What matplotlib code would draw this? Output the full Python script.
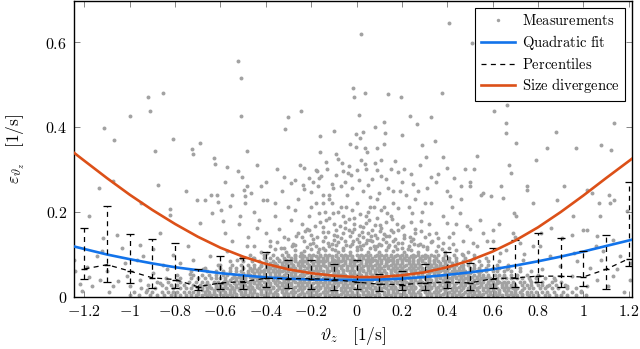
import numpy as np
import matplotlib
matplotlib.use("Agg")
import matplotlib.pyplot as plt
from matplotlib.lines import Line2D

plt.rcParams["mathtext.fontset"] = "cm"
plt.rcParams["font.family"] = ["DejaVu Serif"]

# --- measurements: dense lower band, one row per height, x in hundredths of 1/s
band_rows = [
    (0.003, [-100, -96, -91, -88, -85, -82, -80, -78, -75, -73, -71, -68, -66, -64, -62, -59, -57, -55, -53, -50, -48, -46, -44, -41, -39, -37, -35, -32, -30, -28, -26, -23, -21, -19, -17, -14, -12, -10, -8, -5, -3, -1, 1, 4, 6, 8, 10, 13, 15, 17, 19, 22, 24, 26, 28, 31, 33, 35, 37, 40, 42, 44, 46, 49, 51, 53, 55, 58, 60, 62, 64, 67, 69, 71, 73, 76, 78, 80, 83, 85, 88, 90, 93, 97, 101]),
    (0.007, [-70, -67, -65, -63, -60, -58, -56, -53, -51, -49, -46, -44, -42, -39, -37, -35, -32, -30, -28, -25, -23, -21, -18, -16, -14, -11, -9, -7, -4, -2, 0, 3, 5, 7, 10, 12, 14, 17, 19, 21, 24, 26, 28, 31, 33, 35, 38, 40, 42, 45, 47, 49, 52, 54, 56, 59, 61, 63, 66, 68, 70, 73, 75]),
    (0.011, [-98, -93, -90, -86, -83, -81, -79, -76, -74, -72, -70, -67, -65, -63, -60, -58, -56, -54, -51, -49, -47, -45, -42, -40, -38, -36, -33, -31, -29, -27, -24, -22, -20, -18, -15, -13, -11, -9, -6, -4, -2, 0, 3, 5, 7, 9, 12, 14, 16, 18, 21, 23, 25, 27, 30, 32, 34, 36, 39, 41, 43, 45, 48, 50, 52, 54, 57, 59, 61, 63, 66, 68, 70, 72, 75, 77, 79, 82, 84, 87, 91, 95, 99]),
    (0.015, [-68, -66, -63, -61, -59, -56, -54, -52, -49, -47, -45, -42, -40, -38, -35, -33, -31, -28, -26, -24, -21, -19, -17, -14, -12, -10, -7, -5, -3, 0, 2, 4, 7, 9, 11, 14, 16, 18, 21, 23, 25, 28, 30, 32, 35, 37, 39, 42, 44, 46, 49, 51, 53, 56, 58, 60, 63, 65, 67, 70, 73]),
    (0.019, [-95, -89, -84, -81, -78, -75, -73, -70, -68, -66, -64, -61, -59, -57, -55, -52, -50, -48, -46, -43, -41, -39, -37, -34, -32, -30, -28, -25, -23, -21, -19, -16, -14, -12, -10, -7, -5, -3, -1, 2, 4, 6, 8, 11, 13, 15, 17, 20, 22, 24, 26, 29, 31, 33, 35, 38, 40, 42, 44, 47, 49, 51, 53, 56, 58, 60, 62, 65, 67, 69, 71, 74, 76, 78, 81, 83, 86, 89, 93, 97]),
    (0.023, [-65, -62, -60, -58, -55, -53, -51, -48, -46, -44, -41, -39, -37, -34, -32, -30, -27, -25, -23, -20, -18, -16, -13, -11, -9, -6, -4, -2, 1, 3, 5, 8, 10, 12, 15, 17, 19, 22, 24, 26, 29, 31, 33, 36, 38, 40, 43, 45, 47, 50, 52, 54, 57, 59, 61, 64, 66, 68, 70]),
    (0.027, [-92, -86, -82, -79, -76, -72, -69, -67, -65, -62, -60, -58, -56, -53, -51, -49, -47, -44, -42, -40, -38, -35, -33, -31, -29, -26, -24, -22, -20, -17, -15, -13, -11, -8, -6, -4, -2, 1, 3, 5, 7, 10, 12, 14, 16, 19, 21, 23, 25, 28, 30, 32, 34, 37, 39, 41, 43, 46, 48, 50, 52, 55, 57, 59, 61, 64, 66, 68, 70, 73, 75, 77, 80, 82, 85, 88, 92]),
    (0.031, [-62, -59, -57, -54, -52, -50, -47, -45, -43, -40, -38, -36, -33, -31, -29, -26, -24, -22, -19, -17, -15, -12, -10, -8, -5, -3, -1, 2, 4, 6, 9, 11, 13, 16, 18, 20, 23, 25, 27, 30, 32, 34, 37, 39, 41, 44, 46, 48, 51, 53, 55, 58, 60, 62, 64, 66]),
    (0.035, [-88, -83, -78, -74, -71, -68, -66, -63, -61, -59, -57, -54, -52, -50, -48, -45, -43, -41, -39, -36, -34, -32, -30, -27, -25, -23, -21, -18, -16, -14, -12, -9, -7, -5, -3, 0, 2, 4, 6, 9, 11, 13, 15, 18, 20, 22, 24, 27, 29, 31, 33, 36, 38, 40, 42, 45, 47, 49, 51, 54, 56, 58, 60, 63, 65, 67, 69, 72, 74, 77, 79, 82, 86, 90]),
    (0.039, [-58, -56, -53, -51, -49, -46, -44, -42, -39, -37, -35, -32, -30, -28, -25, -23, -21, -18, -16, -14, -11, -9, -7, -4, -2, 0, 3, 5, 7, 10, 12, 14, 17, 19, 21, 24, 26, 28, 31, 33, 35, 38, 40, 42, 45, 47, 49, 52, 54, 56, 59, 62]),
    (0.043, [-84, -78, -73, -70, -67, -64, -62, -60, -58, -55, -53, -51, -49, -46, -44, -42, -40, -37, -35, -33, -31, -28, -26, -24, -22, -19, -17, -15, -13, -10, -8, -6, -4, -1, 1, 3, 5, 8, 10, 12, 14, 17, 19, 21, 23, 26, 28, 30, 32, 35, 37, 39, 41, 44, 46, 48, 50, 53, 55, 57, 59, 62, 64, 66, 68, 71, 73, 76, 79, 83, 87]),
    (0.047, [-54, -52, -49, -47, -45, -42, -40, -38, -35, -33, -31, -28, -26, -24, -21, -19, -17, -14, -12, -10, -7, -5, -3, 0, 2, 4, 7, 9, 11, 14, 16, 18, 21, 23, 25, 28, 30, 32, 35, 37, 39, 42, 44, 46, 49, 51, 53, 56, 58]),
    (0.051, [-79, -72, -68, -65, -62, -59, -57, -54, -52, -50, -47, -45, -43, -41, -38, -36, -34, -32, -29, -27, -25, -23, -20, -18, -16, -14, -11, -9, -7, -5, -2, 0, 2, 4, 7, 9, 11, 13, 16, 18, 20, 22, 25, 27, 29, 31, 34, 36, 38, 40, 43, 45, 47, 49, 52, 54, 56, 58, 61, 63, 65, 68, 71, 75, 80]),
    (0.055, [-50, -48, -45, -43, -41, -38, -36, -34, -31, -29, -27, -24, -22, -20, -17, -15, -13, -10, -8, -6, -3, -1, 1, 4, 6, 8, 11, 13, 15, 18, 20, 22, 25, 27, 29, 32, 34, 36, 39, 41, 43, 46, 48, 50, 54]),
    (0.059, [-73, -66, -62, -59, -56, -53, -51, -48, -46, -44, -42, -39, -37, -35, -33, -30, -28, -26, -24, -21, -19, -17, -15, -12, -10, -8, -6, -3, -1, 1, 3, 6, 8, 10, 12, 15, 17, 19, 21, 24, 26, 28, 30, 33, 35, 37, 39, 42, 44, 46, 48, 51, 53, 55, 57, 60, 62, 65, 68, 72, 77]),
    (0.063, [-46, -44, -41, -39, -37, -34, -32, -30, -27, -25, -23, -20, -18, -16, -13, -11, -9, -6, -4, -2, 1, 3, 5, 8, 10, 12, 15, 17, 19, 22, 24, 26, 29, 31, 33, 36, 38, 40, 43, 45, 47, 50]),
    (0.067, [-67, -60, -56, -53, -50, -47, -45, -43, -40, -38, -36, -34, -31, -29, -27, -25, -22, -20, -18, -16, -13, -11, -9, -7, -4, -2, 0, 2, 5, 7, 9, 11, 14, 16, 18, 20, 23, 25, 27, 29, 32, 34, 36, 38, 41, 43, 45, 47, 50, 52, 54, 57, 60, 63, 67, 72]),
    (0.071, [-42, -39, -37, -35, -32, -30, -28, -25, -23, -21, -18, -16, -14, -11, -9, -7, -4, -2, 0, 3, 5, 7, 10, 12, 14, 17, 19, 21, 24, 26, 28, 31, 33, 35, 38, 40, 42, 46]),
    (0.075, [-61, -55, -51, -48, -45, -42, -40, -37, -35, -33, -30, -28, -26, -24, -21, -19, -17, -15, -12, -10, -8, -6, -3, -1, 1, 4, 6, 8, 10, 13, 15, 17, 19, 22, 24, 26, 28, 31, 33, 35, 37, 40, 42, 44, 47, 49, 52, 55, 58, 62, 67]),
    (0.079, [-38, -36, -33, -31, -29, -26, -24, -22, -19, -17, -15, -12, -10, -8, -5, -3, -1, 2, 4, 6, 9, 11, 13, 16, 18, 20, 23, 25, 27, 30, 32, 34, 37, 39, 42]),
    (0.083, [-56, -50, -46, -43, -40, -37, -34, -32, -30, -27, -25, -23, -20, -18, -16, -14, -11, -9, -7, -5, -2, 0, 2, 5, 7, 9, 11, 14, 16, 18, 20, 23, 25, 27, 29, 32, 34, 36, 39, 41, 44, 47, 50, 54, 58, 63]),
    (0.087, [-34, -31, -29, -27, -24, -22, -20, -17, -15, -13, -10, -8, -6, -3, -1, 1, 4, 6, 8, 11, 13, 15, 18, 20, 22, 25, 27, 29, 32, 34, 38]),
    (0.091, [-51, -45, -41, -38, -35, -32, -29, -27, -24, -22, -20, -17, -15, -13, -11, -8, -6, -4, -2, 1, 3, 5, 7, 10, 12, 14, 16, 19, 21, 23, 25, 28, 30, 32, 35, 38, 41, 44, 48, 52, 57]),
    (0.095, [-30, -27, -25, -23, -20, -18, -16, -13, -11, -9, -6, -4, -2, 1, 3, 5, 8, 10, 12, 15, 17, 19, 22, 24, 26, 29, 31, 34]),
    (0.099, [-47, -41, -37, -33, -30, -27, -24, -21, -19, -16, -14, -12, -9, -7, -5, -3, 0, 2, 4, 6, 9, 11, 13, 15, 18, 20, 22, 25, 27, 30, 33, 36, 39, 43, 47, 52]),
]

measurements = [
    # upper outliers
    (0.020, 0.620), (0.408, 0.646), (0.508, 0.598), (-0.524, 0.556), (-0.511, 0.515),
    (-0.015, 0.492), (-0.010, 0.471), (0.039, 0.481), (0.139, 0.477), (0.195, 0.471),
    (0.376, 0.480), (-0.855, 0.481), (-0.920, 0.470), (-0.911, 0.437), (-0.246, 0.437),
    (-1.000, 0.425), (-0.511, 0.426), (-0.304, 0.424), (-0.315, 0.396), (0.011, 0.429),
    (0.236, 0.426), (0.329, 0.424), (0.665, 0.452), (0.607, 0.437), (0.658, 0.409),
    (0.658, 0.386), (0.265, 0.408), (0.120, 0.411), (0.127, 0.386), (-1.115, 0.397),
    (-0.160, 0.378), (-0.004, 0.384), (0.014, 0.375), (0.879, 0.387), (1.136, 0.409),
    (-1.070, 0.368), (-0.811, 0.371), (-0.689, 0.363), (0.345, 0.366), (0.702, 0.362),
    (1.077, 0.358), (0.290, 0.358), (-0.889, 0.343), (-0.726, 0.349), (-0.723, 0.336),
    (-0.484, 0.344), (-0.160, 0.342), (-0.090, 0.336), (-0.004, 0.352), (0.039, 0.350),
    (0.842, 0.350), (0.967, 0.350), (1.121, 0.346), (-0.629, 0.326), (-0.625, 0.313),
    (-0.080, 0.325), (-0.064, 0.316), (-0.135, 0.318), (0.037, 0.312), (0.082, 0.314),
    (0.305, 0.329), (0.533, 0.332), (0.790, 0.323), (-0.570, 0.305), (-0.524, 0.297),
    (-0.506, 0.283), (-0.230, 0.302), (-0.177, 0.299), (-0.173, 0.296), (-0.034, 0.308),
    (-0.039, 0.291), (-0.023, 0.287), (0.002, 0.298), (0.089, 0.298), (0.182, 0.294),
    (0.398, 0.303), (0.673, 0.309), (0.680, 0.291), (-0.320, 0.283), (-0.158, 0.285),
    (-0.164, 0.279), (-0.090, 0.287), (0.329, 0.283), (-0.288, 0.268), (-1.073, 0.272),
    (-1.134, 0.257), (-0.874, 0.262), (-0.237, 0.264), (-0.230, 0.254), (-0.102, 0.257),
    (-0.070, 0.260), (0.753, 0.260), (0.636, 0.260), (0.915, 0.260), (1.018, 0.252),
    (-0.202, 0.247), (-0.495, 0.252), (-0.467, 0.244), (-0.643, 0.240), (0.592, 0.236),
    (1.114, 0.240), (1.136, 0.228), (-0.702, 0.228), (-0.668, 0.228), (-0.411, 0.228),
    (-0.393, 0.228), (-0.610, 0.222), (-0.492, 0.220), (1.070, 0.221), (-0.821, 0.207),
    (-0.599, 0.205), (0.695, 0.197), (0.702, 0.189),
    # centre, 0.2 - 0.4
    (0.030, 0.389), (0.090, 0.350), (0.020, 0.323), (0.110, 0.323), (0.150, 0.300),
    (0.070, 0.276), (0.130, 0.276), (0.050, 0.262), (0.100, 0.244), (0.160, 0.250),
    (0.200, 0.270), (0.240, 0.290), (0.220, 0.240), (0.270, 0.250), (0.300, 0.220),
    (0.350, 0.270), (0.400, 0.250), (0.420, 0.210), (0.460, 0.230), (0.500, 0.270),
    (0.550, 0.240), (0.480, 0.300), (0.380, 0.330), (-0.050, 0.270), (-0.120, 0.240),
    (-0.150, 0.220), (-0.190, 0.270), (-0.260, 0.230), (-0.300, 0.210), (-0.330, 0.250),
    (-0.360, 0.220), (-0.420, 0.260), (-0.450, 0.200), (-0.550, 0.240), (-0.580, 0.270),
    (-0.750, 0.250), (-0.950, 0.220), (-1.180, 0.190),
    (-0.200, 0.210), (-0.150, 0.240), (-0.110, 0.220), (-0.070, 0.210), (-0.040, 0.240),
    (0.000, 0.220), (0.030, 0.250), (0.060, 0.210), (0.090, 0.230), (0.120, 0.210),
    (0.160, 0.220), (0.190, 0.250), (0.230, 0.210), (0.260, 0.230), (0.290, 0.200),
    (0.330, 0.220),
    (-0.25, 0.310), (-0.21, 0.280), (-0.13, 0.300), (-0.11, 0.265), (-0.06, 0.295),
    (-0.02, 0.255), (0.01, 0.275), (0.04, 0.300), (0.06, 0.235), (0.11, 0.285),
    (0.14, 0.255), (0.17, 0.320), (0.21, 0.300), (0.25, 0.265), (0.28, 0.310),
    (0.31, 0.255), (0.36, 0.290), (0.43, 0.280), (0.46, 0.260), (0.52, 0.300),
    (-0.35, 0.300), (-0.40, 0.270), (-0.44, 0.310), (-0.27, 0.275), (-0.17, 0.260),
    (0.045, 0.340), (0.12, 0.360), (-0.03, 0.360), (0.08, 0.400), (0.20, 0.380),
    (-0.10, 0.390),
    # left edge
    (-1.245, 0.087), (-1.240, 0.060), (-1.146, 0.095), (-1.124, 0.107), (-1.117, 0.138),
    (-1.058, 0.146), (-1.036, 0.115), (-1.051, 0.036), (-0.970, 0.087), (-0.955, 0.122),
    (-0.940, 0.095), (-0.896, 0.111), (-0.867, 0.150), (-0.852, 0.075), (-0.823, 0.193),
    (-0.808, 0.099), (-0.742, 0.118), (-0.690, 0.174), (-0.639, 0.197), (-0.617, 0.240),
    (-0.588, 0.177), (-0.558, 0.213), (-0.514, 0.189), (-0.492, 0.236), (-0.484, 0.260),
    (-0.440, 0.162), (-1.168, 0.024), (-1.131, 0.040), (-1.073, 0.024), (-1.014, 0.048),
    (-0.999, 0.024), (-0.955, 0.040), (-0.925, 0.016), (-0.896, 0.056), (-0.867, 0.032),
    (-0.837, 0.064), (-0.793, 0.040), (-0.779, 0.079), (-0.734, 0.052), (-0.720, 0.087),
    (-0.676, 0.064), (-0.646, 0.095), (-0.602, 0.075), (-0.573, 0.107), (-0.528, 0.087),
    (-0.484, 0.118), (-0.455, 0.091), (-1.210, 0.012), (-1.190, 0.070), (-1.100, 0.060),
    (-1.020, 0.080), (-1.180, 0.045), (-1.220, 0.030), (-1.090, 0.010),
    # right edge
    (1.192, 0.201), (1.074, 0.189), (1.060, 0.142), (1.089, 0.107), (1.133, 0.134),
    (1.162, 0.095), (1.210, 0.079), (1.206, 0.040), (1.133, 0.048), (1.111, 0.024),
    (1.060, 0.040), (1.030, 0.068), (1.015, 0.024), (0.971, 0.083), (0.949, 0.048),
    (0.927, 0.024), (0.898, 0.071), (0.876, 0.040), (0.854, 0.095), (0.839, 0.024),
    (0.817, 0.064), (0.809, 0.118), (0.765, 0.040), (0.736, 0.087), (0.721, 0.126),
    (0.692, 0.150), (0.663, 0.064), (0.633, 0.103), (0.603, 0.158), (0.574, 0.130),
    (0.545, 0.181), (0.515, 0.126), (0.486, 0.166), (0.457, 0.197), (0.427, 0.150),
    (0.398, 0.174), (0.905, 0.138), (1.000, 0.158), (0.956, 0.189), (0.883, 0.228),
    (0.780, 0.221), (0.751, 0.252), (0.648, 0.232), (0.559, 0.244), (0.501, 0.260),
    (0.412, 0.236), (1.037, 0.244), (1.118, 0.221), (0.812, 0.150), (0.857, 0.162),
    (0.952, 0.146), (1.018, 0.158), (1.055, 0.118), (0.959, 0.103), (1.180, 0.010),
    (1.150, 0.065), (1.080, 0.085), (0.990, 0.012),
    # middle-height fringe
    (-0.58, 0.150), (-0.55, 0.130), (-0.52, 0.170), (-0.48, 0.140), (-0.45, 0.120),
    (-0.43, 0.180), (-0.40, 0.150), (-0.38, 0.130), (-0.36, 0.190), (-0.34, 0.160),
    (-0.32, 0.140), (-0.29, 0.180), (-0.27, 0.205), (-0.24, 0.170), (-0.21, 0.190),
    (-0.18, 0.220), (-0.14, 0.200), (-0.12, 0.230), (-0.22, 0.160),
    (0.32, 0.170), (0.35, 0.150), (0.38, 0.190), (0.41, 0.140), (0.44, 0.170),
    (0.47, 0.130), (0.50, 0.160), (0.53, 0.120), (0.56, 0.150), (0.60, 0.130),
    (0.63, 0.170), (0.66, 0.110), (0.70, 0.140), (0.74, 0.100), (0.78, 0.120),
    (-0.42, .106), (-0.36, .111), (-0.31, .104), (-0.27, .110), (-0.23, .107), (-0.20, .112),
    (-0.17, .105), (-0.14, .109), (-0.11, .113), (-0.08, .106), (-0.06, .110), (-0.03, .104),
    (0.00, .109), (0.02, .113), (0.05, .106), (0.08, .111), (0.10, .105), (0.13, .110),
    (0.16, .107), (0.18, .112), (0.21, .105), (0.24, .109), (0.27, .106), (0.31, .111),
    (0.35, .107), (0.39, .104), (0.44, .110), (0.49, .106),
    (-0.38, .119), (-0.32, .115), (-0.27, .121), (-0.22, .116), (-0.18, .120), (-0.15, .114),
    (-0.12, .118), (-0.09, .122), (-0.06, .115), (-0.03, .119), (0.00, .116), (0.03, .121),
    (0.06, .114), (0.09, .118), (0.11, .122), (0.14, .116), (0.17, .120), (0.20, .115),
    (0.23, .119), (0.27, .122), (0.31, .116), (0.36, .120), (0.41, .115),
    (-0.35, .129), (-0.28, .125), (-0.23, .131), (-0.19, .126), (-0.15, .130), (-0.11, .124),
    (-0.08, .128), (-0.05, .132), (-0.02, .125), (0.01, .129), (0.04, .126), (0.07, .131),
    (0.10, .124), (0.13, .128), (0.16, .132), (0.20, .126), (0.24, .130), (0.28, .125),
    (0.33, .129), (0.38, .127),
    (-0.30, .135), (-0.24, .140), (-0.19, .136), (-0.14, .141), (-0.10, .134), (-0.07, .139),
    (-0.03, .142), (0.00, .136), (0.03, .140), (0.06, .134), (0.09, .138), (0.13, .142),
    (0.17, .135), (0.21, .139), (0.25, .136), (0.30, .141), (0.36, .137),
    (-0.26, .150), (-0.20, .146), (-0.15, .151), (-0.10, .145), (-0.06, .149), (-0.02, .153),
    (0.01, .146), (0.05, .150), (0.08, .144), (0.12, .148), (0.16, .152), (0.21, .146),
    (0.26, .150), (0.32, .147),
    (-0.21, .158), (-0.15, .163), (-0.09, .157), (-0.05, .162), (-0.01, .159), (0.03, .164),
    (0.07, .157), (0.11, .161), (0.15, .158), (0.20, .163), (0.26, .159),
    (-0.16, .175), (-0.10, .170), (-0.05, .176), (-0.01, .171), (0.04, .174), (0.08, .169),
    (0.13, .176), (0.18, .172), (0.24, .175),
    (-0.12, .185), (-0.06, .190), (-0.01, .184), (0.04, .189), (0.09, .186), (0.15, .191),
    (-0.08, .200), (-0.02, .205), (0.05, .199), (0.11, .204),
    (-0.395, .102), (-0.335, .114), (-0.285, .118), (-0.245, .103), (-0.205, .124),
    (-0.165, .113), (-0.125, .127), (-0.095, .110), (-0.045, .122), (-0.015, .131),
    (0.015, .118), (0.045, .133), (0.075, .119), (0.115, .135), (0.145, .121),
    (0.185, .127), (0.225, .112), (0.255, .124), (0.295, .118), (0.335, .132),
    (0.375, .113), (0.425, .125), (0.465, .101),
    (-0.265, .143), (-0.225, .155), (-0.175, .141), (-0.125, .153), (-0.085, .143),
    (-0.035, .156), (0.025, .152), (0.065, .142), (0.105, .155), (0.145, .143),
    (0.185, .156), (0.235, .141), (0.285, .154),
    (-0.185, .166), (-0.135, .181), (-0.075, .166), (-0.035, .183), (0.015, .166),
    (0.055, .181), (0.105, .168), (0.155, .182), (0.205, .167), (0.285, .178),
    (-0.105, .196), (-0.045, .210), (0.015, .194), (0.075, .212), (0.135, .197),
    (0.185, .209), (-0.165, .198), (0.245, .196),
]

# --- quadratic fit (blue) and size divergence (orange)
curve_x = [-1.246, -1.2, -1.1, -1.0, -0.9, -0.8, -0.7, -0.6, -0.5, -0.4, -0.3, -0.2, -0.1,
           0.0, 0.1, 0.2, 0.3, 0.4, 0.5, 0.6, 0.7, 0.8, 0.9, 1.0, 1.1, 1.215]
fit_y = [0.118, 0.112, 0.099, 0.088, 0.078, 0.069, 0.062, 0.055, 0.050, 0.045, 0.042, 0.040, 0.039,
         0.039, 0.040, 0.042, 0.046, 0.051, 0.057, 0.064, 0.073, 0.083, 0.094, 0.106, 0.119, 0.134]
div_y = [0.339, 0.320, 0.279, 0.240, 0.204, 0.171, 0.141, 0.115, 0.094, 0.077, 0.064, 0.055, 0.049,
         0.046, 0.046, 0.050, 0.057, 0.069, 0.085, 0.106, 0.132, 0.163, 0.199, 0.238, 0.279, 0.325]

# --- percentiles per bin
bin_x = [-1.2, -1.1, -1.0, -0.9, -0.8, -0.7, -0.6, -0.5, -0.4, -0.3, -0.2, -0.1, 0.0,
         0.1, 0.2, 0.3, 0.4, 0.5, 0.6, 0.7, 0.8, 0.9, 1.0, 1.1, 1.2]
p_low = [0.041, 0.034, 0.031, 0.020, 0.020, 0.016, 0.018, 0.018, 0.022, 0.019, 0.018, 0.016, 0.018,
         0.014, 0.015, 0.016, 0.020, 0.016, 0.020, 0.023, 0.034, 0.022, 0.024, 0.018, 0.071]
p_med = [0.065, 0.075, 0.060, 0.044, 0.040, 0.023, 0.032, 0.035, 0.043, 0.042, 0.042, 0.040, 0.034,
         0.029, 0.028, 0.032, 0.034, 0.032, 0.042, 0.044, 0.048, 0.048, 0.046, 0.064, 0.089]
p_high = [0.162, 0.213, 0.148, 0.136, 0.126, 0.065, 0.095, 0.090, 0.105, 0.086, 0.085, 0.076, 0.085,
          0.053, 0.059, 0.076, 0.105, 0.078, 0.115, 0.134, 0.150, 0.139, 0.108, 0.146, 0.269]

x_ticks = [-1.2, -1.0, -0.8, -0.6, -0.4, -0.2, 0.0, 0.2, 0.4, 0.6, 0.8, 1.0, 1.2]
y_ticks = [0.0, 0.2, 0.4, 0.6]

GREY = "#a2a2a2"
BLUE = "#1273ea"
ORANGE = "#dc5018"


def tick_text(v):
    s = f"{v:.1f}".rstrip("0").rstrip(".")
    if s in ("-0", ""):
        s = "0"
    return "$" + s + "$"


def main():
    pts_x, pts_y = [], []
    for y, xs in band_rows:
        for x in xs:
            pts_x.append(x / 100.0)
            pts_y.append(y)
    for x, y in measurements:
        pts_x.append(x)
        pts_y.append(y)

    fig = plt.figure(figsize=(6.4, 3.49), dpi=100)
    ax = fig.add_axes([74 / 640, 52.5 / 349, 558 / 640, 295.5 / 349])

    ax.scatter(pts_x, pts_y, s=8, color=GREY, linewidths=0, zorder=1)
    ax.plot(curve_x, fit_y, color=BLUE, lw=1.9, zorder=3)

    med = np.array(p_med)
    err = [med - np.array(p_low), np.array(p_high) - med]
    eb = ax.errorbar(bin_x, p_med, yerr=err, fmt="none", ecolor="k", elinewidth=0.9,
                     capsize=2.6, capthick=0.9, zorder=4)
    eb[2][0].set_linestyle((0, (4, 3.5)))
    ax.plot(bin_x, p_med, color="k", lw=0.9, ls=(0, (4, 3.5)), marker="_", ms=5,
            mew=1.0, zorder=4)
    ax.plot(curve_x, div_y, color=ORANGE, lw=1.9, zorder=5)

    ax.set_xlim(-1.246, 1.215)
    ax.set_ylim(0, 0.697)
    ax.set_xticks(x_ticks)
    ax.set_xticklabels([tick_text(v) for v in x_ticks])
    ax.set_yticks(y_ticks)
    ax.set_yticklabels([tick_text(v) for v in y_ticks])
    ax.tick_params(direction="in", top=True, right=True, length=4, width=0.6,
                   color="0.45", labelsize=11.5, pad=5)
    for sp in ax.spines.values():
        sp.set_linewidth(1.0)

    ax.set_xlabel(r"$\vartheta_z\quad[1/\mathrm{s}]$", fontsize=12.5, labelpad=3)
    ax.set_ylabel(r"$\varepsilon_{\vartheta_z}\quad[1/\mathrm{s}]$", fontsize=12.5, labelpad=13)

    handles = [
        Line2D([], [], ls="none", marker="o", ms=2.5, mfc=GREY, mec="none"),
        Line2D([], [], color=BLUE, lw=1.9),
        Line2D([], [], color="k", lw=0.9, ls=(0, (4, 3.5))),
        Line2D([], [], color=ORANGE, lw=1.9),
    ]
    labels = [r"$\mathrm{Measurements}$", r"$\mathrm{Quadratic\ fit}$",
              r"$\mathrm{Percentiles}$", r"$\mathrm{Size\ divergence}$"]
    leg = ax.legend(handles, labels, loc="upper right", fontsize=10.5, frameon=True,
                    fancybox=False, edgecolor="k", framealpha=1, handlelength=2.3,
                    handletextpad=0.5, labelspacing=0.32, borderpad=0.4,
                    borderaxespad=0.45)
    leg.get_frame().set_linewidth(0.8)
    leg.set_zorder(10)

    fig.savefig("out.png", dpi=100)


if __name__ == "__main__":
    main()
